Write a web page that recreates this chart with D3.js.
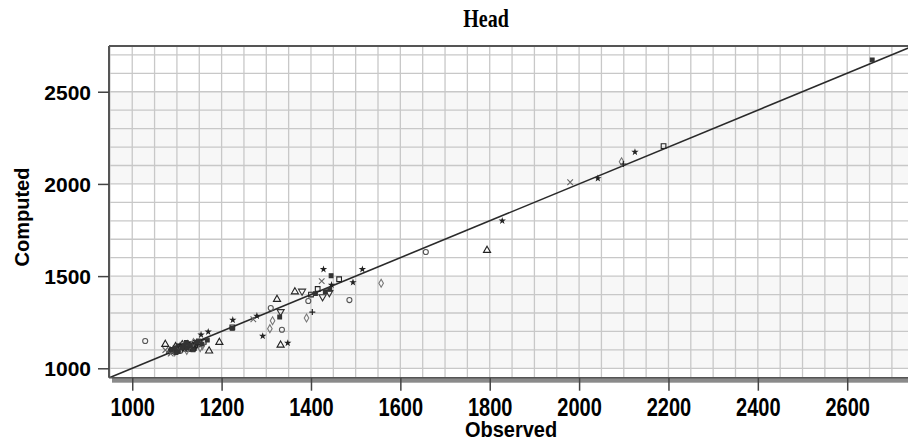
<!DOCTYPE html>
<html>
<head>
<meta charset="utf-8">
<script src="https://cdn.jsdelivr.net/npm/d3@7"></script>
<style>
  body { margin: 0; background: #fff; }
  svg { display: block; }
</style>
</head>
<body>
<svg></svg>
<script>
var width = 908;
var height = 440;

// observed / computed pairs, one pair of arrays per marker type
var circleObs = [1029, 1657, 1394, 1486, 1310, 1335, 1090, 1102, 1118, 1131, 1145, 1108];
var circleSim = [1148, 1631, 1365, 1370, 1327, 1209, 1098, 1112, 1121, 1108, 1135, 1095];

var triUpObs = [1794, 1364, 1324, 1332, 1074, 1195, 1172, 1085, 1097, 1112, 1125, 1138];
var triUpSim = [1640, 1415, 1374, 1126, 1130, 1141, 1094, 1092, 1118, 1128, 1104, 1132];

var triDownObs = [1380, 1332, 1441, 1426, 1093, 1106, 1120, 1134, 1150, 1141];
var triDownSim = [1418, 1307, 1410, 1388, 1102, 1120, 1115, 1126, 1140, 1118];

var squareObs = [2189, 1463, 1400, 1415, 1224, 1136, 1088, 1100, 1115, 1128, 1142, 1160];
var squareSim = [2205, 1483, 1400, 1430, 1222, 1108, 1094, 1105, 1110, 1131, 1124, 1143];

var diamondObs = [2095, 1557, 1390, 1314, 1308, 1157, 1095, 1110, 1122, 1137, 1152];
var diamondSim = [2120, 1461, 1273, 1258, 1215, 1123, 1089, 1117, 1097, 1140, 1112];

var plusObs = [2099, 1403, 1083, 1099, 1113, 1127, 1146];
var plusSim = [2108, 1305, 1087, 1096, 1104, 1118, 1129];

var crossObs = [1980, 1424, 1271, 1074, 1086, 1104, 1119, 1133];
var crossSim = [2009, 1473, 1266, 1099, 1080, 1100, 1130, 1115];

var starObs = [2125, 2042, 1828, 1515, 1428, 1494, 1446, 1292, 1348, 1225, 1279, 1154, 1170, 1092, 1107, 1124, 1140];
var starSim = [2173, 2030, 1800, 1537, 1537, 1466, 1452, 1175, 1137, 1262, 1284, 1182, 1198, 1108, 1126, 1136, 1110];

var fillSqObs = [2656, 1445, 1432, 1442, 1410, 1330, 1224, 1148, 1168, 1087, 1096, 1103, 1111, 1116, 1123, 1130, 1136, 1144, 1156, 1098, 1121];
var fillSqSim = [2673, 1502, 1415, 1428, 1405, 1278, 1217, 1148, 1153, 1100, 1110, 1090, 1112, 1123, 1109, 1124, 1100, 1142, 1131, 1085, 1140];

var xTicks = [1000, 1200, 1400, 1600, 1800, 2000, 2200, 2400, 2600];
var yTicks = [1000, 1500, 2000, 2500];

var svg = d3.select("svg")
    .attr("width", width)
    .attr("height", height);

var plotLeft = 109, plotRight = 912, plotTop = 46, plotBottom = 377.7;

var x = d3.scaleLinear().domain([948, 2745]).range([plotLeft, plotRight]);
var y = d3.scaleLinear().domain([949, 2748]).range([plotBottom, plotTop]);

svg.append("defs").append("clipPath")
    .attr("id", "plotclip")
  .append("rect")
    .attr("x", plotLeft)
    .attr("y", plotTop)
    .attr("width", plotRight - plotLeft)
    .attr("height", plotBottom - plotTop);

var plot = svg.append("g").attr("clip-path", "url(#plotclip)");

// alternating background bands
[[1000, 1500], [2000, 2500]].forEach(function(b) {
  plot.append("rect")
      .attr("x", plotLeft)
      .attr("width", plotRight - plotLeft)
      .attr("y", y(b[1]))
      .attr("height", y(b[0]) - y(b[1]))
      .attr("fill", "#f7f7f7");
});

// grid
var vGrid = d3.range(950, 2751, 50);
var hGrid = d3.range(1000, 2701, 100);

plot.append("g").selectAll("line")
    .data(vGrid)
  .enter().append("line")
    .attr("x1", function(d) { return x(d); })
    .attr("x2", function(d) { return x(d); })
    .attr("y1", plotTop)
    .attr("y2", plotBottom)
    .attr("stroke", "#c8c8c8")
    .attr("stroke-width", 1.3);

plot.append("g").selectAll("line")
    .data(hGrid)
  .enter().append("line")
    .attr("x1", plotLeft)
    .attr("x2", plotRight)
    .attr("y1", function(d) { return y(d); })
    .attr("y2", function(d) { return y(d); })
    .attr("stroke", "#c8c8c8")
    .attr("stroke-width", 1.3);

// 1:1 line
plot.append("line")
    .attr("x1", x(940)).attr("y1", y(940))
    .attr("x2", x(2760)).attr("y2", y(2760))
    .attr("stroke", "#2a2a2a")
    .attr("stroke-width", 1.6);

// markers
var series = [
  { obs: circleObs, sim: circleSim, type: d3.symbolCircle, size: 20, fill: "none", stroke: "#555" },
  { obs: triUpObs, sim: triUpSim, type: d3.symbolTriangle, size: 22, fill: "none", stroke: "#222" },
  { obs: triDownObs, sim: triDownSim, type: d3.symbolTriangle, size: 22, fill: "none", stroke: "#333", rotate: 180 },
  { obs: squareObs, sim: squareSim, type: d3.symbolSquare, size: 22, fill: "none", stroke: "#222" },
  { obs: diamondObs, sim: diamondSim, type: d3.symbolDiamond, size: 18, fill: "none", stroke: "#777" },
  { obs: plusObs, sim: plusSim, type: d3.symbolCross, size: 0, fill: "none", stroke: "#222", plus: true },
  { obs: crossObs, sim: crossSim, type: d3.symbolX, size: 22, fill: "none", stroke: "#666" },
  { obs: starObs, sim: starSim, type: d3.symbolStar, size: 5, fill: "#222", stroke: "#222" },
  { obs: fillSqObs, sim: fillSqSim, type: d3.symbolSquare, size: 14, fill: "#333", stroke: "#333" }
];

var markers = plot.append("g");
series.forEach(function(s) {
  var pts = s.obs.map(function(o, i) { return [o, s.sim[i]]; });
  var g = markers.append("g");
  if (s.plus) {
    g.selectAll("path")
        .data(pts)
      .enter().append("path")
        .attr("d", function(d) {
          var cx = x(d[0]), cy = y(d[1]);
          return "M" + (cx - 3) + "," + cy + "H" + (cx + 3) + "M" + cx + "," + (cy - 3) + "V" + (cy + 3);
        })
        .attr("stroke", s.stroke)
        .attr("stroke-width", 1.2)
        .attr("fill", "none");
    return;
  }
  var sym = d3.symbol().type(s.type).size(s.size);
  g.selectAll("path")
      .data(pts)
    .enter().append("path")
      .attr("d", sym)
      .attr("transform", function(d) {
        return "translate(" + x(d[0]) + "," + y(d[1]) + ")" + (s.rotate ? " rotate(" + s.rotate + ")" : "");
      })
      .attr("fill", s.fill)
      .attr("stroke", s.stroke)
      .attr("stroke-width", 1.1);
});

// frame
svg.append("line")
    .attr("x1", plotLeft).attr("x2", plotRight)
    .attr("y1", plotTop).attr("y2", plotTop)
    .attr("stroke", "#555").attr("stroke-width", 2);
svg.append("line")
    .attr("x1", plotLeft).attr("x2", plotLeft)
    .attr("y1", plotTop).attr("y2", plotBottom)
    .attr("stroke", "#555").attr("stroke-width", 2);
// shadowed bottom edge
svg.append("rect")
    .attr("x", plotLeft + 3).attr("y", plotBottom)
    .attr("width", plotRight - plotLeft).attr("height", 5)
    .attr("fill", "#8a8a8a");
svg.append("line")
    .attr("x1", plotLeft).attr("x2", plotRight)
    .attr("y1", plotBottom).attr("y2", plotBottom)
    .attr("stroke", "#555").attr("stroke-width", 1.5);

// axes
var yAxis = svg.append("g")
    .attr("transform", "translate(" + plotLeft + ",0)")
    .call(d3.axisLeft(y).tickValues(yTicks).tickSize(11).tickPadding(7).tickFormat(d3.format("d")));
var xAxis = svg.append("g")
    .attr("transform", "translate(0," + plotBottom + ")")
    .call(d3.axisBottom(x).tickValues(xTicks).tickSize(13).tickPadding(4).tickFormat(d3.format("d")));

[yAxis, xAxis].forEach(function(a) {
  a.select(".domain").remove();
  a.selectAll(".tick line").attr("stroke", "#444").attr("stroke-width", 1.5);
  a.selectAll(".tick text")
      .attr("fill", "#000")
      .style("font-family", "'Liberation Sans', Arial, sans-serif")
      .style("font-weight", "bold")
      .style("font-size", "20px");
});
yAxis.selectAll(".tick text").attr("dy", "0.36em").style("font-size", "21px");
xAxis.selectAll(".tick text")
    .attr("dy", null)
    .attr("y", 0)
    .attr("transform", "translate(0,38) scale(1,1.25)");

// titles
svg.append("text")
    .attr("transform", "translate(486,27) scale(1,1.25)")
    .attr("text-anchor", "middle")
    .style("font-family", "'Liberation Serif', 'Times New Roman', serif")
    .style("font-weight", "bold")
    .style("font-size", "20px")
    .text("Head");

svg.append("text")
    .attr("transform", "translate(511,437) scale(1,1.1)")
    .attr("text-anchor", "middle")
    .style("font-family", "'Liberation Sans', Arial, sans-serif")
    .style("font-weight", "bold")
    .style("font-size", "20px")
    .text("Observed");

svg.append("text")
    .attr("transform", "translate(29,217) rotate(-90)")
    .attr("text-anchor", "middle")
    .style("font-family", "'Liberation Sans', Arial, sans-serif")
    .style("font-weight", "bold")
    .style("font-size", "20px")
    .text("Computed");
</script>
</body>
</html>
